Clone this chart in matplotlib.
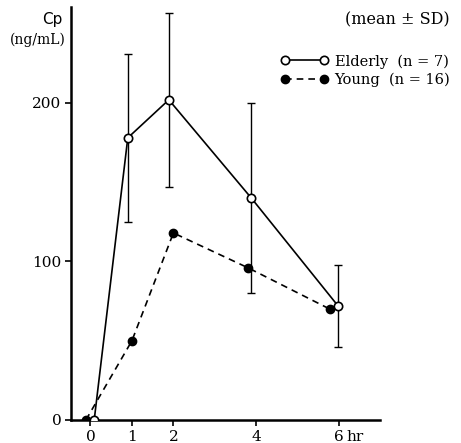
import matplotlib
matplotlib.use('Agg')
import matplotlib.pyplot as plt
import numpy as np

# data
t_eld = [0.09, 0.9, 1.89, 3.88, 5.97]
cp_eld = [0, 178, 202, 140, 72]
sd_eld = [0, 53, 55, 60, 26]

t_yng = [-0.11, 1.0, 2.0, 3.8, 5.77]
cp_yng = [0, 50, 118, 96, 70]

xticks = [0, 1, 2, 4, 6]
xticklabels = ['0', '1', '2', '4', '6']
yticks = [0, 100, 200]

plt.rcParams['font.family'] = ['DejaVu Serif']

fig = plt.figure(figsize=(4.61, 4.43), dpi=100)
ax = fig.add_axes([0.154, 0.052, 0.670, 0.932])

ax.errorbar(t_eld[1:], cp_eld[1:], yerr=sd_eld[1:], fmt='none',
            ecolor='black', elinewidth=1.0, capsize=3, capthick=1.0, zorder=2)
l1, = ax.plot(t_eld, cp_eld, '-', color='black', lw=1.2, marker='o',
              ms=6, mfc='white', mec='black', mew=1.2, zorder=4)
l2, = ax.plot(t_yng, cp_yng, '--', color='black', lw=1.2, marker='o',
              ms=6, mfc='black', mec='black', dashes=(4, 3), zorder=3)

ax.set_xlim(-0.47, 6.98)
ax.set_ylim(0, 260.5)
ax.set_xticks(xticks)
ax.set_xticklabels(xticklabels)
ax.set_yticks(yticks)
for s in ['top', 'right']:
    ax.spines[s].set_visible(False)
for s in ['left', 'bottom']:
    ax.spines[s].set_linewidth(1.8)
ax.tick_params(direction='out', length=4, width=1.2, labelsize=11, pad=3)

fig.text(0.135, 0.955, 'Cp', ha='right', va='center', fontsize=11,
         family='DejaVu Sans')
fig.text(0.143, 0.91, '(ng/mL)', ha='right', va='center', fontsize=10)
fig.text(0.752, 0.014, 'hr', ha='left', va='center', fontsize=11)
fig.text(0.862, 0.955, '(mean \u00b1 SD)', ha='center', va='center', fontsize=11.5)

ax.legend([l1, l2], ['Elderly  (n = 7)', 'Young  (n = 16)'], numpoints=2,
          handlelength=3.3, frameon=False, fontsize=10.5,
          loc='upper left', bbox_to_anchor=(0.66, 0.9), borderaxespad=0,
          handletextpad=0.4, labelspacing=0.3)

fig.savefig('out.png', dpi=100)
